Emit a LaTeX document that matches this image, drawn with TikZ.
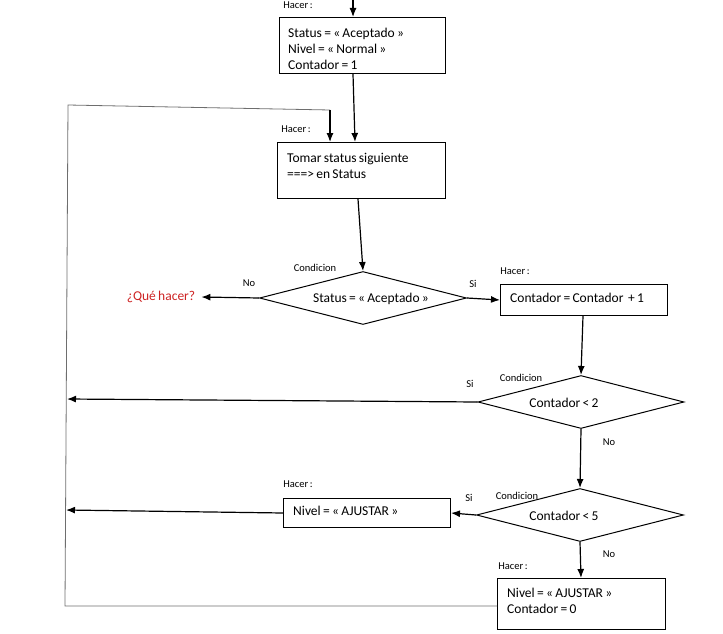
\documentclass[tikz,border=0pt]{standalone}
\usepackage{fontspec}
\setmainfont{Carlito}[WordSpace=0.75]
\usetikzlibrary{arrows.meta,shapes.geometric}
\definecolor{qred}{RGB}{205,35,35}
\definecolor{loopgrey}{RGB}{110,110,110}
\tikzset{
  arr/.style={draw=black,line width=1.2pt,-{Latex[length=9pt,width=7pt]}},
  loopline/.style={draw=loopgrey,line width=0.8pt},
  procbox/.style={draw=black,line width=1pt,anchor=north west,inner sep=0pt},
  boxtext/.style={anchor=north west,align=left,inner sep=0pt,font=\fontsize{13.5}{16}\selectfont},
  decision/.style={diamond,draw=black,line width=1pt,inner sep=0pt,minimum width=207pt,minimum height=53pt,aspect=3.9},
  small/.style={font=\fontsize{10.5}{12}\selectfont,inner sep=0pt},
  dtext/.style={font=\fontsize{13.5}{16}\selectfont,inner sep=0pt}
}
\begin{document}
\begin{tikzpicture}[x=1pt,y=-1pt]
\useasboundingbox (0,0) rectangle (723,634);
% boxes
\node[procbox,minimum width=166pt,minimum height=56pt] (b1) at (279,17) {};
\node[boxtext] (t1) at (288,27.5) {Status = « Aceptado »\\Nivel = « Normal »\\Contador = 1};
\node[procbox,minimum width=168pt,minimum height=56pt] (b2) at (277,142) {};
\node[boxtext] (t2) at (287,153) {Tomar status siguiente\\===> en Status};
\node[procbox,minimum width=167pt,minimum height=31pt] (b3) at (500,284) {};
\node[boxtext] (t3) at (510,292.5) {Contador = Contador \ + 1};
\node[procbox,minimum width=167pt,minimum height=29pt] (b4) at (283,498) {};
\node[boxtext] (t4) at (293,506) {Nivel = « AJUSTAR »};
\node[procbox,minimum width=168pt,minimum height=51pt] (b5) at (497,578) {};
\node[boxtext] (t5) at (507,588) {Nivel = « AJUSTAR »\\Contador = 0};
% diamonds
\node[decision,label={[dtext,xshift=8pt,yshift=-1pt]center:Status = « Aceptado »}] (d1) at (363,298) {};
\node[decision,minimum width=206pt,label={[dtext,xshift=-17pt,yshift=-1pt]center:Contador < 2}] (d2) at (581,402) {};
\node[decision,label={[dtext,xshift=-16pt,yshift=-1pt]center:Contador < 5}] (d3) at (580,515) {};
% red text
\node[font=\fontsize{13.5}{16}\selectfont,text=qred,inner sep=0pt] (qh) at (161,297) {¿Qué hacer?};
% small labels
\node[small] (h1) at (298,5) {Hacer :};
\node[small] (h2) at (296,129) {Hacer :};
\node[small] (h3) at (515,271) {Hacer :};
\node[small] (h4) at (298,484) {Hacer :};
\node[small] (h5) at (513,566) {Hacer :};
\node[small] (c1) at (315,268) {Condicion};
\node[small] (c2) at (521,378) {Condicion};
\node[small] (c3) at (517,496) {Condicion};
\node[small] (n1) at (249,283) {No};
\node[small] (n2) at (609,442) {No};
\node[small] (n3) at (609,554) {No};
\node[small] (s1) at (473,284) {Si};
\node[small] (s2) at (470,384) {Si};
\node[small] (s3) at (469,498) {Si};
% free coordinates
\coordinate (top) at (353,0);
\coordinate (L1) at (65,606);
\coordinate (L2) at (68,105);
\coordinate (L3) at (330,110);
\coordinate (A2) at (67,399);
\coordinate (A3) at (66,510);
% connectors
\draw[arr] (top) -- (b1.north -| top);
\draw[arr] ([xshift=74pt]b1.south west) -- ([xshift=78pt]b2.north west);
\draw[loopline] (b5.west |- L1) -- (L1) -- (L2) -- (L3);
\draw[arr] (L3) -- (L3 |- b2.north);
\draw[arr] ([xshift=81pt]b2.south west) -- (d1.north);
\draw[arr] (d1.west) -- ([xshift=6pt]qh.east);
\draw[arr] (d1.east) -- (b3.west);
\draw[arr] ([xshift=83pt]b3.south west) -- (d2.north);
\draw[arr] (d2.west) -- (A2);
\draw[arr] (d2.south) -- (d3.north);
\draw[arr] (d3.west) -- (b4.east);
\draw[arr] (b4.west) -- (A3);
\draw[arr] (d3.south) -- ([xshift=84pt]b5.north west);
\end{tikzpicture}
\end{document}
